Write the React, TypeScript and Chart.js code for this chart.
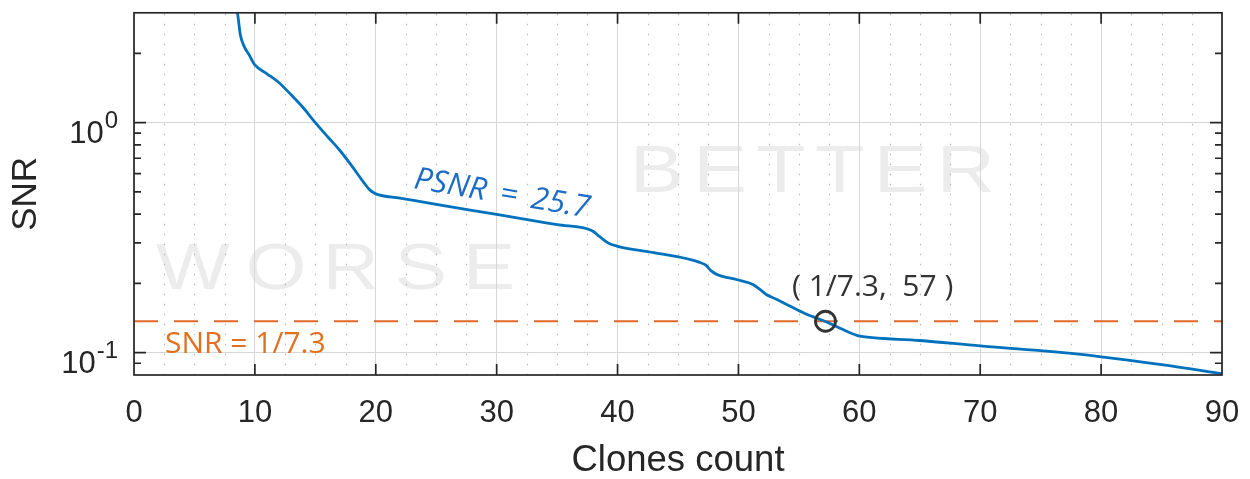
import React, { useEffect, useRef } from "react";
import { Chart, registerables } from "chart.js";

Chart.register(...registerables);

// ---- data ----
const clonesCount = [8.3, 8.6, 8.8, 9.1, 9.5, 10, 11, 12, 13, 14, 15, 16, 17, 18, 19, 19.5, 20, 22, 25, 30, 35, 37.9, 38.5, 39.3, 40, 43, 46.8, 47.3, 47.7, 48.2, 50, 51.2, 51.8, 52.3, 53.1, 54.2, 55.5, 57.3, 58.5, 59.8, 60.3, 65, 70, 75, 80, 85, 90];
const snrValues = [3.6, 2.9, 2.4, 2.15, 1.98, 1.78, 1.63, 1.49, 1.32, 1.16, 1.0, 0.87, 0.76, 0.65, 0.55, 0.51, 0.49, 0.47, 0.441, 0.399, 0.36, 0.339, 0.32, 0.298, 0.29, 0.272, 0.247, 0.24, 0.228, 0.219, 0.207, 0.198, 0.188, 0.179, 0.171, 0.16, 0.148, 0.136, 0.127, 0.119, 0.1175, 0.113, 0.107, 0.102, 0.096, 0.0887, 0.081];

const thresholdSnr = 1 / 7.3;
const thresholdRange = [0, 90];
const markerPoint = { x: 57.2, y: 1 / 7.3 };

const xTickValues = [0, 10, 20, 30, 40, 50, 60, 70, 80, 90];
const xMinorValues = [2.5, 5, 7.5, 12.5, 15, 17.5, 22.5, 25, 27.5, 32.5, 35, 37.5, 42.5, 45, 47.5, 52.5, 55, 57.5, 62.5, 65, 67.5, 72.5, 75, 77.5, 82.5, 85, 87.5];
const yTickValues = [0.1, 1];
const yTickBase = ["10", "10"];
const yTickExp = ["-1", "0"];
const yMinorValues = [0.09, 0.2, 0.3, 0.4, 0.5, 0.6, 0.7, 0.8, 0.9, 2];

const xTitle = "Clones count";
const yTitle = "SNR";
const psnrLabel = "PSNR = 25.7";
const snrLabel = "SNR = 1/7.3";
const pointLabel = "( 1/7.3,  57 )";
const watermarkBetter = "BETTER";
const watermarkWorse = "WORSE";

const SANS = "'Liberation Sans', Arial, Helvetica, sans-serif";
const OPEN = "'Open Sans', 'Noto Sans', sans-serif";
const AXIS_COLOR = "#262626";

function drawSpaced(ctx: CanvasRenderingContext2D, text: string, left: number, right: number, baseline: number, sx: number) {
  const chars = text.split("");
  const widths = chars.map((c) => ctx.measureText(c).width * sx);
  const total = widths.reduce((a, b) => a + b, 0);
  const gap = chars.length > 1 ? (right - left - total) / (chars.length - 1) : 0;
  let x = left;
  chars.forEach((c, i) => {
    ctx.save();
    ctx.translate(x, baseline);
    ctx.scale(sx, 1);
    ctx.fillText(c, 0, 0);
    ctx.restore();
    x += widths[i] + gap;
  });
}

const watermarkPlugin = {
  id: "watermarks",
  beforeDraw(chart: any) {
    const { ctx } = chart;
    ctx.save();
    ctx.fillStyle = "#ececec";
    ctx.textAlign = "left";
    ctx.textBaseline = "alphabetic";
    ctx.font = `66px ${SANS}`;
    drawSpaced(ctx, watermarkBetter, 630, 995, 192, 1.22);
    ctx.font = `64px ${SANS}`;
    drawSpaced(ctx, watermarkWorse, 156, 515, 289, 1.22);
    ctx.restore();
  },
};

const minorGridPlugin = {
  id: "minorGrid",
  beforeDatasetsDraw(chart: any) {
    const { ctx, chartArea: a, scales } = chart;
    const xs = scales.x;
    ctx.save();
    ctx.strokeStyle = "#b8b8b8";
    ctx.lineWidth = 1.2;
    ctx.setLineDash([1.5, 8.5]);
    ctx.beginPath();
    xMinorValues.forEach((v) => {
      const px = Math.round(xs.getPixelForValue(v)) + 0.5;
      ctx.moveTo(px, a.top + 1);
      ctx.lineTo(px, a.bottom);
    });
    ctx.stroke();
    ctx.restore();
  },
};

const framePlugin = {
  id: "frameAndText",
  afterDatasetsDraw(chart: any) {
    const { ctx, chartArea: a, scales } = chart;
    const xs = scales.x;
    const ys = scales.y;
    ctx.save();
    ctx.strokeStyle = AXIS_COLOR;
    ctx.lineWidth = 1.7;
    ctx.setLineDash([]);
    ctx.beginPath();
    xTickValues.forEach((v) => {
      if (v <= 0 || v >= 90) return;
      const px = xs.getPixelForValue(v);
      ctx.moveTo(px, a.bottom);
      ctx.lineTo(px, a.bottom - 11);
      ctx.moveTo(px, a.top);
      ctx.lineTo(px, a.top + 11);
    });
    yTickValues.forEach((v) => {
      const py = ys.getPixelForValue(v);
      ctx.moveTo(a.left, py);
      ctx.lineTo(a.left + 12, py);
      ctx.moveTo(a.right, py);
      ctx.lineTo(a.right - 12, py);
    });
    yMinorValues.forEach((v) => {
      const py = ys.getPixelForValue(v);
      ctx.moveTo(a.left, py);
      ctx.lineTo(a.left + 7, py);
      ctx.moveTo(a.right, py);
      ctx.lineTo(a.right - 7, py);
    });
    ctx.stroke();
    ctx.strokeRect(a.left, a.top, a.right - a.left, a.bottom - a.top);

    // y tick labels with superscripts
    ctx.fillStyle = AXIS_COLOR;
    ctx.textBaseline = "alphabetic";
    yTickValues.forEach((v, i) => {
      const py = ys.getPixelForValue(v);
      ctx.font = `24px ${SANS}`;
      const ew = ctx.measureText(yTickExp[i]).width;
      const right = a.left - 16;
      ctx.textAlign = "left";
      ctx.fillText(yTickExp[i], right - ew, py + 5.5);
      ctx.font = `31px ${SANS}`;
      ctx.textAlign = "right";
      ctx.fillText(yTickBase[i], right - ew - 1, py + 20.5);
    });

    // annotations
    ctx.textAlign = "left";
    ctx.textBaseline = "alphabetic";
    ctx.save();
    ctx.translate(413, 188);
    ctx.rotate(0.1676);
    ctx.font = `italic 31px ${OPEN}`;
    (ctx as any).wordSpacing = "6px";
    ctx.fillStyle = "#1b6cc6";
    ctx.fillText(psnrLabel, 0, 0);
    (ctx as any).wordSpacing = "0px";
    ctx.restore();

    ctx.font = `30px ${OPEN}`;
    ctx.fillStyle = "#e2701f";
    ctx.fillText(snrLabel, 165, 353);

    ctx.font = `30px ${OPEN}`;
    ctx.fillStyle = "#333333";
    ctx.fillText(pointLabel, 792, 296);
    ctx.restore();
  },
};

export default function App() {
  const ref = useRef<HTMLCanvasElement>(null);
  useEffect(() => {
    document.body.style.margin = "0";
    const canvas = ref.current!;
    const chart = new Chart(canvas, {
      type: "line",
      data: {
        datasets: [
          {
            label: "marker",
            data: [markerPoint],
            showLine: false,
            pointRadius: 10,
            pointBorderWidth: 2.8,
            pointBorderColor: "#333333",
            pointBackgroundColor: "rgba(0,0,0,0)",
            order: 0,
          },
          {
            label: "SNR",
            data: clonesCount.map((x, i) => ({ x, y: snrValues[i] })),
            borderColor: "#0072BD",
            borderWidth: 2.8,
            pointRadius: 0,
            cubicInterpolationMode: "monotone",
            fill: false,
            order: 1,
          },
          {
            label: "threshold",
            data: thresholdRange.map((x) => ({ x, y: thresholdSnr })),
            borderColor: "#e4672a",
            borderWidth: 2,
            borderDash: [24, 16],
            pointRadius: 0,
            fill: false,
            order: 2,
          },
        ],
      },
      options: {
        responsive: false,
        animation: false,
        events: [],
        layout: { padding: { top: 12, right: 28, left: 0, bottom: 0 } },
        plugins: {
          legend: { display: false },
          tooltip: { enabled: false },
        },
        scales: {
          x: {
            type: "linear",
            min: 0,
            max: 90,
            afterBuildTicks: (s: any) => {
              s.ticks = xTickValues.map((v) => ({ value: v }));
            },
            ticks: {
              font: { family: SANS, size: 31 },
              color: AXIS_COLOR,
              padding: 20,
              maxRotation: 0,
              autoSkip: false,
              callback: (v: any) => String(v),
            },
            grid: { color: "#d6d6d6", lineWidth: 1, drawTicks: false },
            border: { display: false },
            title: {
              display: true,
              text: xTitle,
              font: { family: SANS, size: 36.5, lineHeight: 1 },
              color: AXIS_COLOR,
              padding: { top: 0, bottom: 0 },
            },
            afterFit: (s: any) => {
              s.height = 104;
              s.paddingLeft = 0;
              s.paddingRight = 0;
            },
          },
          y: {
            type: "logarithmic",
            min: 0.08,
            max: 3,
            afterBuildTicks: (s: any) => {
              s.ticks = yTickValues.map((v) => ({ value: v }));
            },
            ticks: { display: false },
            grid: { color: "#d6d6d6", lineWidth: 1, drawTicks: false },
            border: { display: false },
            title: {
              display: true,
              text: yTitle,
              font: { family: SANS, size: 35, lineHeight: 1 },
              color: AXIS_COLOR,
              padding: { top: 9, bottom: 0 },
            },
            afterFit: (s: any) => {
              s.width = 134;
              s.paddingTop = 0;
              s.paddingBottom = 0;
            },
          },
        },
      },
      plugins: [watermarkPlugin, minorGridPlugin, framePlugin],
    } as any);
    return () => chart.destroy();
  }, []);
  return (
    <div style={{ width: 1250, height: 479, position: "relative" }}>
      <canvas ref={ref} width={1250} height={479} style={{ display: "block", width: 1250, height: 479 }} />
    </div>
  );
}
